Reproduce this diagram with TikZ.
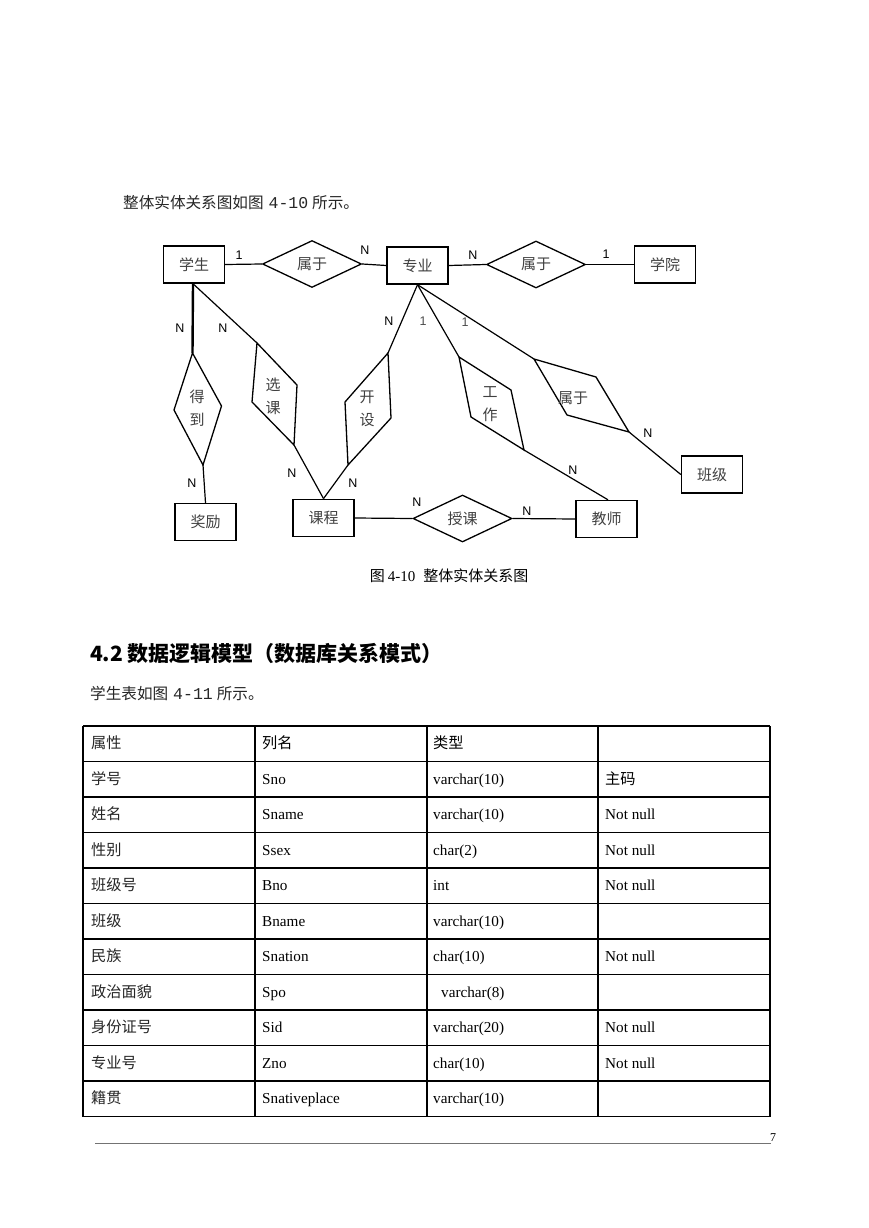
\documentclass[tikz,border=0pt]{standalone}
\usepackage{fontspec}
\setmainfont{Liberation Serif}
\setsansfont{Liberation Sans}
\newfontfamily\cjk{Noto Sans CJK SC}
\newfontfamily\mono{Liberation Mono}
\usetikzlibrary{shapes.geometric,calc}

\begin{document}
\begin{tikzpicture}[x=1pt,y=-1pt,
  ent/.style={draw, line width=1.4pt, minimum width=61pt, minimum height=37pt, inner sep=0pt,
    font=\cjk\fontsize{15}{15}\selectfont, text=black!75},
  rel/.style={diamond, draw, line width=1.3pt, minimum width=99pt, minimum height=47pt, inner sep=0pt,
    font=\cjk\fontsize{15}{15}\selectfont, text=black!75},
  quad/.style={draw, line width=1.3pt, line join=miter},
  qtext/.style={font=\cjk\fontsize{15}{23}\selectfont, text=black!75, align=center, inner sep=0pt},
  conn/.style={line width=1.2pt},
  card/.style={font=\sffamily\fontsize{12.5}{12.5}\selectfont, inner sep=0pt},
  cell/.style={anchor=base west, inner sep=0pt, font=\fontsize{15.2}{15}\selectfont},
  ccell/.style={anchor=base west, inner sep=0pt, font=\cjk\fontsize{15.2}{15}\selectfont, text=black!85},
  tline/.style={line width=1.1pt}
]
\useasboundingbox[fill=white] (0,0) rectangle (869,1228);

% intro text
\node[anchor=base west, inner sep=0pt, font=\cjk\fontsize{15.6}{15}\selectfont, text=black!85] (intro) at (123,208)
  {整体实体关系图如图\hspace{5pt}{\mono\fontsize{16.5}{16}\selectfont 4-10}\hspace{4pt}所示。};

% entities
\node[ent] (xs) at (194,264.5) {学生};
\node[ent] (zy) at (417.5,265.5) {专业};
\node[ent] (xy) at (665,264.5) {学院};
\node[ent] (jl) at (205.5,522) {奖励};
\node[ent, line width=1.8pt] (kc) at (323.5,518) {课程};
\node[ent] (js) at (606.5,519) {教师};
\node[ent] (bj) at (712,474.5) {班级};

% diamonds
\node[rel] (sh1) at (312,264) {属于};
\node[rel] (sh2) at (536,264.5) {属于};
\node[rel] (sk) at (462.5,518.5) {授课};

% skewed relationship shapes
\coordinate (ddT) at (192.5,353); \coordinate (ddL) at (174,410);
\coordinate (ddB) at (203,465);   \coordinate (ddR) at (221.5,406);
\draw[quad] (ddT) -- (ddR) -- (ddB) -- (ddL) -- cycle;
\node[qtext] (dd) at (197,408.5) {得\\到};

\coordinate (xkT) at (257,343); \coordinate (xkR) at (297,385);
\coordinate (xkB) at (294,445); \coordinate (xkL) at (252,402);
\draw[quad] (xkT) -- (xkR) -- (xkB) -- (xkL) -- cycle;
\node[qtext] (xk) at (273,396.5) {选\\课};

\coordinate (ksT) at (388,353); \coordinate (ksR) at (391,418);
\coordinate (ksB) at (348,465); \coordinate (ksL) at (345,402);
\draw[quad] (ksT) -- (ksR) -- (ksB) -- (ksL) -- cycle;
\node[qtext] (ks) at (367,409) {开\\设};

\coordinate (gzT) at (459,357); \coordinate (gzR) at (511,390);
\coordinate (gzB) at (524,450); \coordinate (gzL) at (471,417);
\draw[quad] (gzT) -- (gzR) -- (gzB) -- (gzL) -- cycle;
\node[qtext] (gz) at (490,404.5) {工\\作};

\coordinate (s3T) at (534,359); \coordinate (s3R) at (596,377);
\coordinate (s3B) at (629,432); \coordinate (s3L) at (567,415);
\draw[quad] (s3T) -- (s3R) -- (s3B) -- (s3L) -- cycle;
\node[qtext] (s3) at (573,398) {属于};

% connectors
\draw[conn] (xs.east) -- (sh1.west);
\draw[conn] (sh1.east) -- (zy.west);
\draw[conn] (zy.east) -- (sh2.west);
\draw[conn] (sh2.east) -- (xy.west);
\draw[line width=2.4pt] ([xshift=-1pt]xs.south) -- (ddT);
\draw[conn] (ddB) -- (jl.north);
\draw[conn] ([xshift=-1pt]xs.south) -- (xkT);
\draw[conn] (xkB) -- (kc.north);
\draw[conn] (ksB) -- (kc.north);
\draw[conn] (ksT) -- (zy.south);
\draw[conn] (zy.south) -- (gzT);
\draw[conn] (gzB) -- ([xshift=1.5pt]js.north);
\draw[conn] (zy.south) -- (s3T);
\draw[conn] (s3B) -- (bj.west);
\draw[conn] (kc.east) -- (sk.west);
\draw[conn] (sk.east) -- (js.west);

% cardinalities
\node[card] at (239,255) {1};
\node[card] at (365,250) {N};
\node[card] at (473,255) {N};
\node[card] at (606,254) {1};
\node[card] at (180,328) {N};
\node[card] at (223,328) {N};
\node[card] at (389,321) {N};
\node[card, text=black!70] at (423,321) {1};
\node[card, text=black!70] at (465,322) {1};
\node[card] at (192,483) {N};
\node[card] at (292,473) {N};
\node[card] at (353,483) {N};
\node[card] at (417,502) {N};
\node[card] at (527,511) {N};
\node[card] at (573,470) {N};
\node[card] at (648,433) {N};

% caption
\node[anchor=base, inner sep=0pt, font=\fontsize{15}{15}\selectfont] (cap) at (449,581.5)
  {{\cjk 图}\hspace{3pt}4-10\hspace{8pt}{\cjk 整体实体关系图}};

% heading
\node[anchor=base west, inner sep=0pt, font=\cjk\bfseries\fontsize{21}{21}\selectfont] (h42) at (90,661)
  {4.2 数据逻辑模型（数据库关系模式）};

\node[anchor=base west, inner sep=0pt, font=\cjk\fontsize{15.6}{15}\selectfont, text=black!85] (tabintro) at (90,699)
  {学生表如图\hspace{5pt}{\mono\fontsize{16.5}{16}\selectfont 4-11}\hspace{4pt}所示。};

% table grid
\foreach \k in {0,...,11} {
  \draw[tline] (83,{726+35.5*\k}) -- (770,{726+35.5*\k});
}
\foreach \xx in {83,255,427,598,770} {
  \draw[tline] (\xx,726) -- (\xx,1116.5);
}

% table contents
\foreach \i/\a/\b/\c/\d in {
  0/属性/{\cjk 列名}/{\cjk 类型}/{},
  1/学号/Sno/varchar(10)/{\cjk 主码},
  2/姓名/Sname/varchar(10)/Not null,
  3/性别/Ssex/char(2)/Not null,
  4/班级号/Bno/int/Not null,
  5/班级/Bname/varchar(10)/{},
  6/民族/Snation/char(10)/Not null,
  7/政治面貌/Spo/{\hspace{8pt}varchar(8)}/{},
  8/身份证号/Sid/varchar(20)/Not null,
  9/专业号/Zno/char(10)/Not null,
  10/籍贯/Snativeplace/varchar(10)/{}} {
  \pgfmathsetmacro\yy{726+35.5*(\i+0.5)+5}
  \node[ccell] at (91,\yy) {\a};
  \node[cell] at (262,\yy) {\b};
  \node[cell] at (433,\yy) {\c};
  \node[cell] at (605,\yy) {\d};
}

% footer
\draw[black!55, line width=0.7pt] (95,1143) -- (771,1143);
\node[anchor=south west, inner sep=0pt, font=\fontsize{12}{12}\selectfont] (pg) at (770,1142) {7};
\end{tikzpicture}
\end{document}
